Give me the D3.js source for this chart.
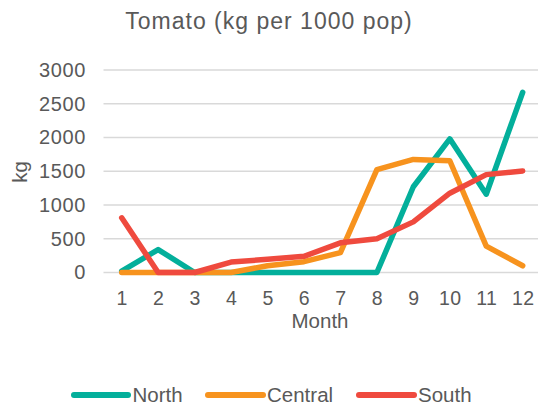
<!DOCTYPE html>
<html>
<head>
<meta charset="utf-8">
<script src="https://cdn.jsdelivr.net/npm/d3@7"></script>
<style>
  html, body { margin: 0; padding: 0; background: #fff; }
  svg { display: block; font-family: "Liberation Sans", Arial, sans-serif; }
</style>
</head>
<body>
<svg id="chart" width="538" height="406"></svg>
<script>
// Monthly tomato consumption by region (kg per 1000 pop)
const months = [1, 2, 3, 4, 5, 6, 7, 8, 9, 10, 11, 12];
const north   = [20, 340, 0, 0, 0, 0, 0, 0, 1270, 1980, 1160, 2670];
const central = [0, 0, 0, 0, 100, 160, 295, 1525, 1675, 1655, 390, 100];
const south   = [810, 0, 0, 155, 195, 240, 440, 500, 750, 1175, 1450, 1505];
const yTicks  = [0, 500, 1000, 1500, 2000, 2500, 3000];
const seriesNames = ["North", "Central", "South"];
const seriesColors = ["#03AF9B", "#F7931E", "#EF4A3E"];

const series = [north, central, south].map((vals, i) => ({
  name: seriesNames[i],
  color: seriesColors[i],
  values: vals.map((v, j) => ({ month: months[j], value: v }))
}));

const svg = d3.select("#chart");
const textColor = "#595959";

const x = d3.scalePoint().domain(months).range([121.7, 522.7]);
const y = d3.scaleLinear().domain([0, 3000]).range([272.5, 70]);
const plotLeft = 103.5, plotRight = 541;

// Title
svg.append("text")
  .attr("x", 269).attr("y", 29)
  .attr("text-anchor", "middle")
  .attr("fill", textColor)
  .style("font-size", "23px")
  .style("letter-spacing", "1px")
  .text("Tomato (kg per 1000 pop)");

// Gridlines
svg.append("g")
  .selectAll("line")
  .data(yTicks)
  .join("line")
  .attr("x1", plotLeft).attr("x2", plotRight)
  .attr("y1", d => y(d)).attr("y2", d => y(d))
  .attr("stroke", "#D9D9D9")
  .attr("stroke-width", 1.5);

// Y axis labels
const yAxis = d3.axisLeft(y).tickValues(yTicks).tickFormat(d3.format("d"))
  .tickSize(0).tickPadding(0);
const yg = svg.append("g").attr("transform", "translate(86,0)").call(yAxis);
yg.select(".domain").remove();
yg.selectAll("text")
  .attr("fill", textColor)
  .style("font-size", "20px")
  .style("letter-spacing", "0.6px")
  .style("font-family", "'Liberation Sans', Arial, sans-serif");

// X axis labels
const xAxis = d3.axisBottom(x).tickSize(0).tickPadding(0);
const xg = svg.append("g").attr("transform", "translate(0,291)").call(xAxis);
xg.select(".domain").remove();
xg.selectAll("text")
  .attr("fill", textColor)
  .style("font-size", "19.5px")
  .style("letter-spacing", "0.4px")
  .style("font-family", "'Liberation Sans', Arial, sans-serif");

// Axis titles
svg.append("text")
  .attr("x", 320).attr("y", 328)
  .attr("text-anchor", "middle")
  .attr("fill", textColor)
  .style("font-size", "20.5px")
  .text("Month");

svg.append("text")
  .attr("transform", "translate(27,172) rotate(-90)")
  .attr("text-anchor", "middle")
  .attr("fill", textColor)
  .style("font-size", "20.5px")
  .text("kg");

// Lines
const line = d3.line().x(d => x(d.month)).y(d => y(d.value));
svg.append("g")
  .selectAll("path")
  .data(series)
  .join("path")
  .attr("d", d => line(d.values))
  .attr("fill", "none")
  .attr("stroke", d => d.color)
  .attr("stroke-width", 5.5)
  .attr("stroke-linejoin", "round")
  .attr("stroke-linecap", "round");

// Legend
const legendX = [[74, 128, 132.5], [208, 263, 267], [359, 414, 418]];
const lg = svg.append("g")
  .selectAll("g")
  .data(series)
  .join("g");
lg.append("line")
  .attr("x1", (d, i) => legendX[i][0]).attr("x2", (d, i) => legendX[i][1])
  .attr("y1", 395).attr("y2", 395)
  .attr("stroke", d => d.color)
  .attr("stroke-width", 6)
  .attr("stroke-linecap", "round");
lg.append("text")
  .attr("x", (d, i) => legendX[i][2]).attr("y", 402)
  .attr("fill", textColor)
  .style("font-size", "20.5px")
  .text(d => d.name);
</script>
</body>
</html>
